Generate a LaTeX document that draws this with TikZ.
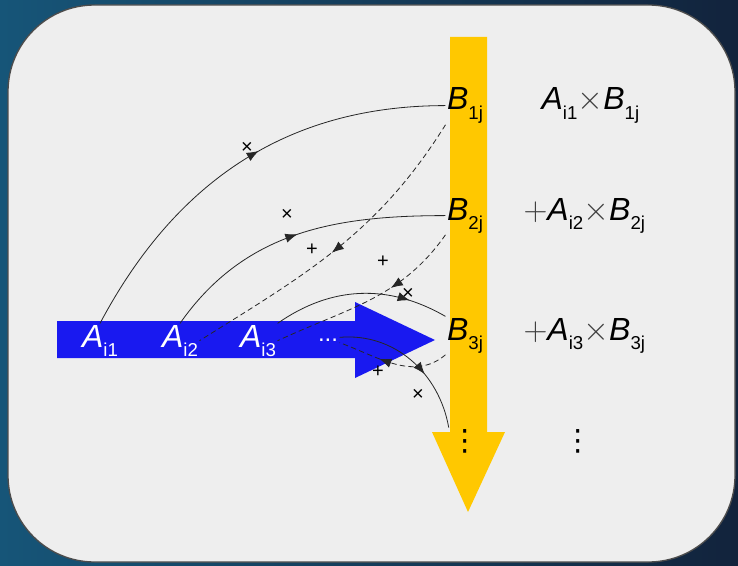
\documentclass[tikz,border=0pt]{standalone}
\usepackage{fontspec}
\setmainfont{Liberation Sans}
\newfontfamily\symfont{DejaVu Sans}
\usetikzlibrary{arrows.meta,positioning,decorations.markings}
\definecolor{cBgL}{RGB}{22,85,120}
\definecolor{cBgR}{RGB}{18,35,60}
\definecolor{cPanel}{RGB}{238,238,238}
\definecolor{cGold}{RGB}{255,200,0}
\definecolor{cBlue}{RGB}{25,25,240}

\newcommand{\elem}[2]{\textit{#1}\raisebox{-7pt}{\fontsize{14}{14}\selectfont #2}}
\newcommand{\tms}{\textcolor{black!75}{${\times}$}}
\newcommand{\pls}{\textcolor{black!75}{$+$}}

\begin{document}
\begin{tikzpicture}[
    x=0.75pt, y=0.75pt,
    lbl/.style={inner sep=1pt,font=\fontsize{24}{24}\selectfont},
    vdt/.style={inner sep=1pt,font=\symfont\fontsize{22}{22}\selectfont},
    sgn/.style={inner sep=0pt,font=\fontsize{15}{15}\selectfont},
    conn/.style={line width=0.6pt,black!85},
    dconn/.style={conn,dash pattern=on 4pt off 2.5pt},
    midarrow/.style={postaction={decorate},
      decoration={markings,mark=at position #1 with {\arrow{Latex[length=9pt,width=7pt]}}}}
  ]
  \useasboundingbox (0,0) rectangle (738,565);
  \shade[left color=cBgL,right color=cBgR] (0,0) rectangle (738,565);
  \draw[gray!60!black,fill=cPanel,line width=1pt,rounded corners=65pt] (8,3) rectangle (735,560);

  % big arrows
  \fill[cGold] (450,528) -- (487,528) -- (487,133) -- (505,133) -- (468,53)
    -- (432,133) -- (450,133) -- cycle;
  \fill[cBlue] (57,244) -- (355,244) -- (355,263) -- (435,225) -- (355,187)
    -- (355,207) -- (57,207) -- cycle;

  % row A
  \node[lbl,white,anchor=base] (a1) at (100,218) {\elem{A}{i1}};
  \node[lbl,white,anchor=base] (a2) at (180,218) {\elem{A}{i2}};
  \node[lbl,white,anchor=base] (a3) at (258,218) {\elem{A}{i3}};
  \node[lbl,white,font=\fontsize{18}{18}\selectfont] (adots) at (328,225) {...};

  % column B
  \node[lbl,anchor=base] (b1) at (465,455) {\elem{B}{1j}};
  \node[lbl,anchor=base] (b2) at (465,345) {\elem{B}{2j}};
  \node[lbl,anchor=base] (b3) at (465,225) {\elem{B}{3j}};
  \node[vdt] (bdots) at (465,124) {⋮};

  % sums
  \node[lbl,anchor=base west] (s1) at (540,455) {\elem{A}{i1}\tms\elem{B}{1j}};
  \node[lbl,anchor=base west] (s2) at (522,345) {\pls\elem{A}{i2}\tms\elem{B}{2j}};
  \node[lbl,anchor=base west] (s3) at (522,225) {\pls\elem{A}{i3}\tms\elem{B}{3j}};
  \node[vdt] (sdots) at (578,124) {⋮};

  % products and sums
  \draw[conn,midarrow=0.55] (a1.north) to[out=62,in=180] (b1.west);
  \draw[conn,midarrow=0.5] (a2.north) to[out=55,in=180] (b2.west);
  \draw[conn,midarrow=0.78] (a3.north east) to[out=35,in=150] (b3.north west);
  \draw[conn,midarrow=0.62] ([yshift=2pt]adots.east) to[out=5,in=100] (bdots.north west);
  \draw[dconn,midarrow=0.52] (b1.south west) to[out=238,in=32] (a2.east);
  \draw[dconn,midarrow=0.38] (b2.south west) to[out=235,in=25] (a3.east);
  \draw[dconn,midarrow=0.62] (b3.south west) to[out=220,in=-20] ([yshift=-2pt]adots.east);

  \node[sgn] (x1) at (247,417) {×};
  \node[sgn] (x2) at (287,350) {×};
  \node[sgn] (x3) at (408,271) {×};
  \node[sgn] (x4) at (418,170) {×};
  \node[sgn] (p1) at (312,315) {+};
  \node[sgn] (p2) at (383,303) {+};
  \node[sgn] (p3) at (378,193) {+};
\end{tikzpicture}
\end{document}
